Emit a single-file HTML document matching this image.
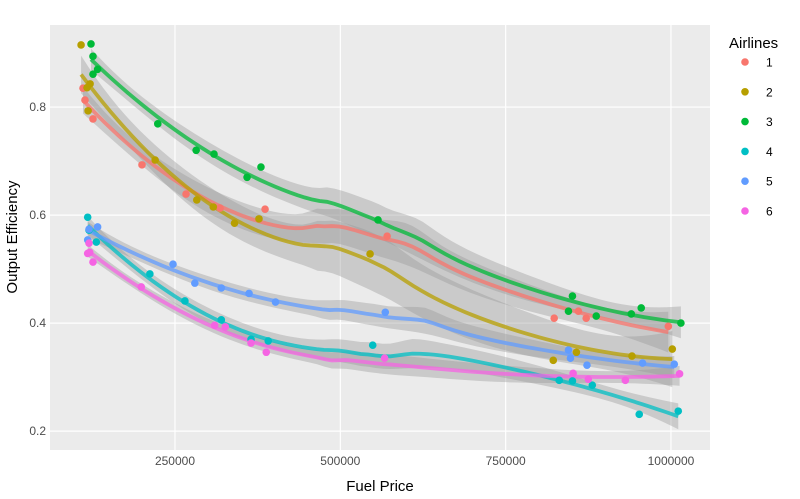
<!DOCTYPE html>
<html><head><meta charset="utf-8"><style>
body{margin:0;background:#fff;font-family:"Liberation Sans",sans-serif;}
</style></head><body>
<svg id="chart" width="800" height="494" xmlns="http://www.w3.org/2000/svg"></svg>
<script>
const airlines = ["1","2","3","4","5","6"];
const colors = ["#F8766D","#B79F00","#00BA38","#00BFC4","#619CFF","#F564E3"];
const fuel1 = [110900,113900,126000,200100,266700,318100,386200,570800,823400,860000,871800,996000];
const eff1  = [0.835,0.813,0.778,0.693,0.639,0.613,0.611,0.561,0.409,0.422,0.409,0.394];
const fuel2 = [108000,118600,121600,117000,220000,283000,307900,340000,377000,545000,822000,857000,941000,1002000];
const eff2  = [0.915,0.793,0.843,0.836,0.702,0.628,0.615,0.585,0.593,0.528,0.331,0.346,0.339,0.352];
const fuel3 = [123000,126000,126000,133000,224000,282000,309000,359000,380000,557000,845000,851000,887000,940000,955000,1015000];
const eff3  = [0.917,0.894,0.861,0.870,0.769,0.720,0.713,0.670,0.689,0.591,0.422,0.450,0.413,0.417,0.428,0.400];
const fuel4 = [118000,120000,131000,212000,265000,320000,365000,391000,549000,831000,851000,881000,952000,1011000];
const eff4  = [0.596,0.572,0.550,0.491,0.441,0.406,0.370,0.367,0.359,0.294,0.293,0.285,0.231,0.237];
const fuel5 = [120000,133000,118000,247000,280000,320000,362000,402000,568000,845000,848000,873000,957000,1005000];
const eff5  = [0.574,0.578,0.554,0.509,0.474,0.465,0.455,0.439,0.420,0.350,0.335,0.322,0.326,0.324];
const fuel6 = [120000,121000,118000,126000,199000,310000,326000,365000,388000,567000,852000,875000,931000,1013000];
const eff6  = [0.548,0.531,0.529,0.513,0.467,0.396,0.393,0.363,0.346,0.335,0.307,0.296,0.294,0.306];
const xTicks = [250000,500000,750000,1000000];
const xTickLabels = ["250000","500000","750000","1000000"];
const yTicks = [0.2,0.4,0.6,0.8];
const yTickLabels = ["0.2","0.4","0.6","0.8"];
const fuels=[fuel1,fuel2,fuel3,fuel4,fuel5,fuel6];
const effs=[eff1,eff2,eff3,eff4,eff5,eff6];

const NS="http://www.w3.org/2000/svg";
const svg=document.getElementById('chart');
const L=50,R=710,T=25,B=450;
const X0=61000,X1=1059000,Y0=0.165,Y1=0.952;
function sx(v){return L+(v-X0)/(X1-X0)*(R-L);}
function sy(v){return B-(v-Y0)/(Y1-Y0)*(B-T);}
function mk(tag,attrs,parent){const e=document.createElementNS(NS,tag);for(const k in attrs)e.setAttribute(k,attrs[k]);(parent||svg).appendChild(e);return e;}

const panel=mk('rect',{x:L,y:T,width:R-L,height:B-T,fill:'#EBEBEB'});


const grid=mk('g',{});


xTicks.forEach((t,i)=>{
  mk('line',{x1:sx(t),x2:sx(t),y1:T,y2:B,stroke:'#fff','stroke-width':1.2},grid);
  const tx=mk('text',{x:sx(t),y:B+15,'text-anchor':'middle','font-size':12,fill:'#4D4D4D'});
  tx.textContent=xTickLabels[i];
  
  
});
yTicks.forEach((t,i)=>{
  mk('line',{x1:L,x2:R,y1:sy(t),y2:sy(t),stroke:'#fff','stroke-width':1.2},grid);
  const tx=mk('text',{x:L-4,y:sy(t)+4,'text-anchor':'end','font-size':12,fill:'#4D4D4D'});
  tx.textContent=yTickLabels[i];
  
  
});

function solve3(M){
  const [a,b,c,d,e,f,g,h,i]=[M[0][0],M[0][1],M[0][2],M[1][0],M[1][1],M[1][2],M[2][0],M[2][1],M[2][2]];
  const A=e*i-f*h,Bc=-(d*i-f*g),C=d*h-e*g;
  const det=a*A+b*Bc+c*C;
  return [[A/det,-(b*i-c*h)/det,(b*f-c*e)/det],[Bc/det,(a*i-c*g)/det,-(a*f-c*d)/det],[C/det,-(a*h-b*g)/det,(a*e-b*d)/det]];
}
function loessAt(xs,ys,x0){
  const n=xs.length,q=Math.ceil(0.75*n);
  const d=xs.map(x=>Math.abs(x-x0)/1e5);
  const sd=[...d].sort((a,b)=>a-b);
  const h=sd[q-1]*1.0001+1e-9;
  const w=d.map(v=>{const u=v/h;return u<1?Math.pow(1-u*u*u,3):0;});
  const M=[[0,0,0],[0,0,0],[0,0,0]],v=[0,0,0];
  for(let k=0;k<n;k++){const t=(xs[k]-x0)/1e5;const p=[1,t,t*t];
    for(let r=0;r<3;r++){v[r]+=w[k]*p[r]*ys[k];for(let c=0;c<3;c++)M[r][c]+=w[k]*p[r]*p[c];}}
  const Mi=solve3(M);
  let fit=0,ss=0;
  for(let k=0;k<n;k++){const t=(xs[k]-x0)/1e5;const p=[1,t,t*t];
    const lk=w[k]*(Mi[0][0]*p[0]+Mi[0][1]*p[1]+Mi[0][2]*p[2]);fit+=lk*ys[k];ss+=lk*lk;}
  return {fit,ss};
}
const bands=mk('g',{});
const lines=mk('g',{});
const pts=mk('g',{});
airlines.forEach((a,s)=>{
  const xs=fuels[s],ys=effs[s];
  let rss=0;xs.forEach((x,k)=>{const r=ys[k]-loessAt(xs,ys,x).fit;rss+=r*r;});
  const sigma=Math.sqrt(rss/Math.max(1,xs.length-5));
  const mn=Math.min(...xs),mx=Math.max(...xs);
  const up=[],lo=[],mid=[];
  for(let g=0;g<=80;g++){const x=mn+(mx-mn)*g/80;const r=loessAt(xs,ys,x);
    const hw=2.2*sigma*Math.sqrt(r.ss);
    mid.push([sx(x),sy(r.fit)]);up.push([sx(x),sy(r.fit+hw)]);lo.push([sx(x),sy(r.fit-hw)]);}
  const poly=up.concat(lo.reverse()).map(p=>p.join(',')).join(' ');
  const band=mk('polygon',{points:poly,fill:'#999','fill-opacity':0.4},bands);
  
  
  const ln=mk('polyline',{points:mid.map(p=>p.join(',')).join(' '),fill:'none',stroke:colors[s],'stroke-width':3.8,'stroke-opacity':0.75},lines);
  
  
  xs.forEach((x,k)=>{
    const c=mk('circle',{cx:sx(x),cy:sy(ys[k]),r:3.8,fill:colors[s]},pts);
    
    
  });
});
const xt=mk('text',{x:380,y:491,'text-anchor':'middle','font-size':15,fill:'#000'});xt.textContent='Fuel Price';

const yt=mk('text',{x:0,y:0,'text-anchor':'middle','font-size':15,fill:'#000',transform:'translate(17,237) rotate(-90)'});yt.textContent='Output Efficiency';

const lg=mk('g',{});
const lt=mk('text',{x:729,y:48,'font-size':15,fill:'#000'},lg);lt.textContent='Airlines';

airlines.forEach((a,s)=>{
  const y=62+s*29.8;
  const e=mk('g',{},lg);
  
  
  mk('circle',{cx:745,cy:y,r:3.8,fill:colors[s]},e);
  const t=mk('text',{x:766,y:y+4.5,'font-size':12,fill:'#000'},e);t.textContent=a;
});
</script>
</body></html>
